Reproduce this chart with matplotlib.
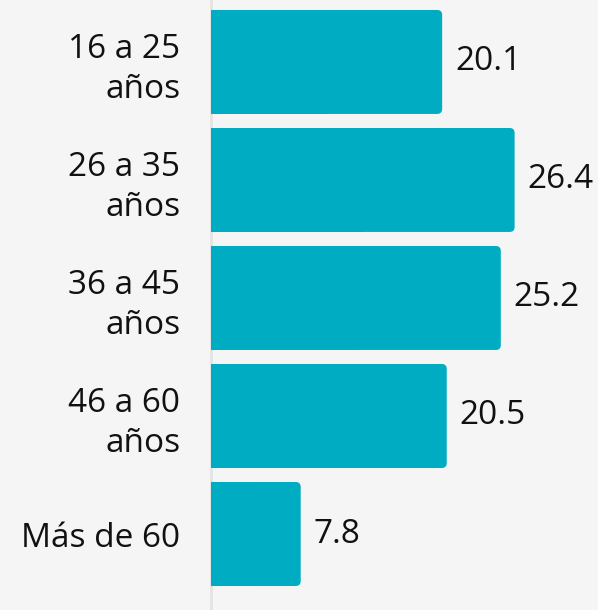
import matplotlib
matplotlib.use("Agg")
import matplotlib.pyplot as plt
from matplotlib.patches import FancyBboxPatch

# Data
categories = ["16 a 25\naños", "26 a 35\naños", "36 a 45\naños", "46 a 60\naños", "Más de 60"]
values = [20.1, 26.4, 25.2, 20.5, 7.8]
value_labels = ["20.1", "26.4", "25.2", "20.5", "7.8"]

# Styles
bg = "#f5f5f5"
bar_color = "#00acc1"
text_color = "#111111"
plt.rcParams["font.family"] = ["Open Sans", "DejaVu Sans"]

fig = plt.figure(figsize=(5.98, 6.10), dpi=100, facecolor=bg)
ax = fig.add_axes([211 / 598, 0, 1 - 211 / 598, 1], facecolor=bg)

px_per_unit = 11.5
xmax = (598 - 211) / px_per_unit
ax.set_xlim(0, xmax)
ax.set_ylim(4.644, -0.525)

bar_h = 0.881
r_x = 5 / px_per_unit          # corner radius in x units
r_y = 5 / 118                  # corner radius in y units
ypos = list(range(len(values)))

for y, v, lab in zip(ypos, values, value_labels):
    # rounded full bar
    p = FancyBboxPatch((0, y - bar_h / 2), v, bar_h,
                       boxstyle="round,pad=0,rounding_size=%f" % r_x,
                       mutation_aspect=r_y / r_x,
                       fc=bar_color, ec="none", zorder=3)
    ax.add_patch(p)
    # square left half
    ax.barh(y, v / 2, height=bar_h, color=bar_color, zorder=3)
    ax.annotate(lab, (v, y), xytext=(13, 0), textcoords="offset pixels",
                ha="left", va="center", fontsize=24, color=text_color)

ax.set_yticks(ypos)
ax.set_yticklabels(categories, fontsize=24, color=text_color, linespacing=1.3)
ax.tick_params(axis="y", length=0, pad=22)
ax.set_xticks([])

for s in ["top", "right", "bottom"]:
    ax.spines[s].set_visible(False)
ax.spines["left"].set_color("#e4e4e4")
ax.spines["left"].set_linewidth(2)
ax.spines["left"].set_zorder(1)

fig.savefig("out.png", dpi=100, facecolor=bg)
